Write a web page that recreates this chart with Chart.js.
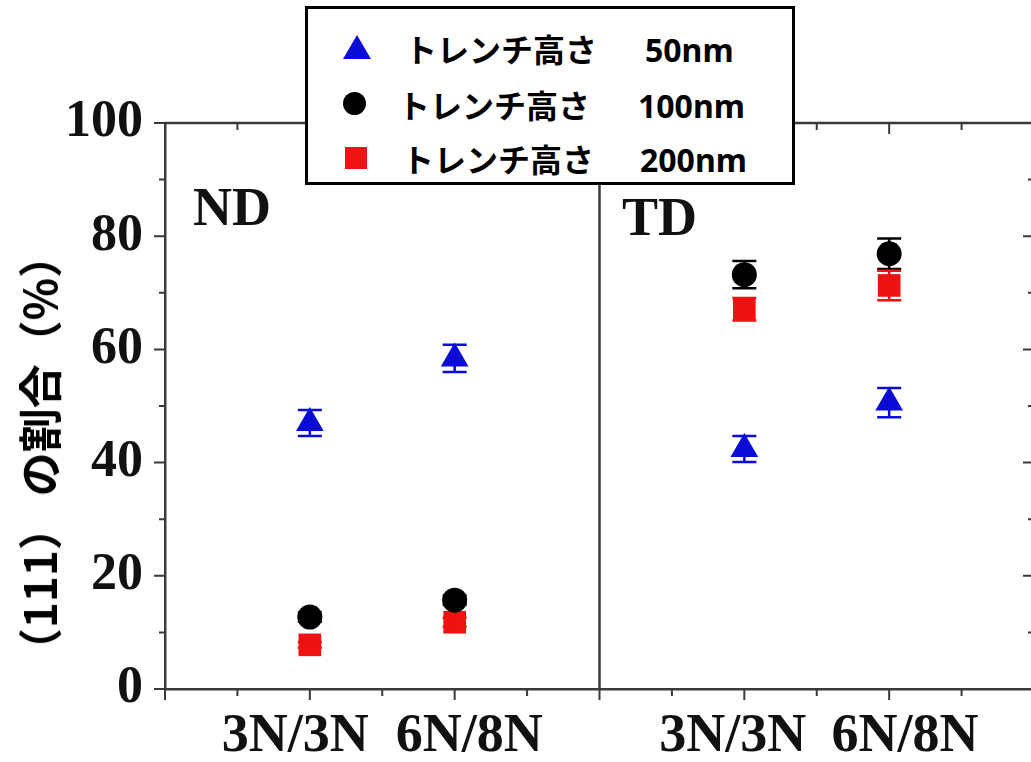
<!DOCTYPE html>
<html>
<head>
<meta charset="utf-8">
<script src="https://cdn.jsdelivr.net/npm/chart.js@4.4.1/dist/chart.umd.min.js"></script>
<style>
  html, body { margin: 0; padding: 0; background: #fff; overflow: hidden; }
  #wrap { position: relative; width: 1050px; height: 762px; }
  #chart { position: absolute; left: 0; top: 0; }
  .panel { position: absolute; font: bold 54px "Liberation Serif", serif; line-height: 54px; color: #111; }
  #ytitle {
    position: absolute; left: 38px; top: 453px;
    transform: translate(-50%, -50%) rotate(-90deg);
    font: bold 44px "Noto Sans CJK JP", sans-serif; line-height: 1;
    white-space: nowrap; color: #000;
  }
  #legend {
    position: absolute; left: 305px; top: 6px; width: 490px; height: 179px;
    box-sizing: border-box; border: 3px solid #000; background: #fff;
  }
  .lg { position: absolute; font: bold 32px "Noto Sans CJK JP", sans-serif; line-height: 40px; color: #000; white-space: nowrap; }
  .lv { position: absolute; font: bold 32px "Noto Sans", sans-serif; line-height: 40px; color: #000; white-space: nowrap; }
  .mk { position: absolute; }
</style>
</head>
<body>
<div id="wrap">
  <canvas id="chart" width="1050" height="762"></canvas>
  <div class="panel" style="left:193px; top:180px;">ND</div>
  <div class="panel" style="left:622px; top:190px;">TD</div>
  <div id="ytitle">（111） の割合（%）</div>
  <div id="legend"></div>
  <div id="legendItems"></div>
</div>
<script>
// categories on the shared x axis (ND panel: 0-6, TD panel: 6-12)
const categories = ["3N/3N", "6N/8N", "3N/3N", "6N/8N"];
const categoryX = [2, 4, 8, 10];
const labelX = [1.8, 4.2, 7.84, 10.22];
const dividerX = 6;

const seriesLabels = ["トレンチ高さ", "トレンチ高さ", "トレンチ高さ"];
const seriesHeights = ["50nm", "100nm", "200nm"];

// (111) fraction, %
const trench50 = [47.0, 58.4, 42.4, 50.6];
const trench50Err = [2.3, 2.4, 2.3, 2.6];
const trench100 = [12.7, 15.7, 73.2, 76.9];
const trench100Err = [0.8, 0.8, 2.4, 2.7];
const trench200 = [7.8, 11.8, 67.1, 71.3];
const trench200Err = [0.5, 0.8, 2.0, 2.6];

const colors = ["#0b0bd6", "#000000", "#ee1212"];
const styles = ["triangle", "circle", "rect"];
const radii = [16, 12.5, 16];

function toPoints(values) {
  return values.map((v, i) => ({ x: categoryX[i], y: v }));
}

const errorBars = {
  id: "errorBars",
  afterDatasetsDraw(chart) {
    const { ctx, scales: { x, y } } = chart;
    chart.data.datasets.forEach((ds) => {
      ctx.save();
      ctx.strokeStyle = ds.borderColor;
      ctx.lineWidth = 2.5;
      ctx.beginPath();
      ds.data.forEach((p, j) => {
        const e = ds.errors[j];
        const px = x.getPixelForValue(p.x);
        const top = y.getPixelForValue(p.y + e);
        const bot = y.getPixelForValue(p.y - e);
        ctx.moveTo(px, top); ctx.lineTo(px, bot);
        ctx.moveTo(px - 12, top); ctx.lineTo(px + 12, top);
        ctx.moveTo(px - 12, bot); ctx.lineTo(px + 12, bot);
      });
      ctx.stroke();
      ctx.restore();
    });
  }
};

const frame = {
  id: "frame",
  beforeDatasetsDraw(chart) {
    const { ctx, chartArea: a, scales: { x, y } } = chart;
    ctx.save();
    ctx.strokeStyle = "#3a3a3a";
    ctx.lineWidth = 2.5;
    ctx.beginPath();
    ctx.moveTo(a.left, a.top); ctx.lineTo(a.right, a.top); ctx.lineTo(a.right, a.bottom);
    const dx = x.getPixelForValue(dividerX);
    ctx.moveTo(dx, a.top); ctx.lineTo(dx, a.bottom);
    ctx.stroke();

    ctx.lineWidth = 2;
    ctx.beginPath();
    for (let v = x.min; v <= x.max; v++) {
      const len = v % 2 === 0 ? 11 : 7;
      const px = x.getPixelForValue(v);
      ctx.moveTo(px, a.bottom); ctx.lineTo(px, a.bottom + len);
      ctx.moveTo(px, a.top); ctx.lineTo(px, a.top + len);
    }
    for (let v = y.min; v <= y.max; v += 10) {
      const len = v % 20 === 0 ? 11 : 6;
      const py = y.getPixelForValue(v);
      ctx.moveTo(a.left, py); ctx.lineTo(a.left - len, py);
      ctx.moveTo(a.right, py); ctx.lineTo(a.right - len, py);
    }
    ctx.stroke();
    ctx.restore();
  }
};

new Chart(document.getElementById("chart"), {
  type: "scatter",
  data: {
    datasets: [trench50, trench100, trench200].map((vals, i) => ({
      label: seriesLabels[i] + " " + seriesHeights[i],
      data: toPoints(vals),
      errors: [trench50Err, trench100Err, trench200Err][i],
      pointStyle: styles[i],
      pointRadius: radii[i],
      backgroundColor: colors[i],
      borderColor: colors[i],
      borderWidth: 0,
      order: i
    }))
  },
  options: {
    responsive: false,
    animation: false,
    layout: { padding: { top: 123, right: 9, left: 0, bottom: 0 } },
    plugins: { legend: { display: false }, tooltip: { enabled: false } },
    scales: {
      x: {
        type: "linear",
        min: 0,
        max: 12,
        afterBuildTicks: (scale) => { scale.ticks = labelX.map((v) => ({ value: v })); },
        afterFit: (scale) => { scale.height = 73; },
        grid: { display: false, drawTicks: false },
        border: { display: true, color: "#3a3a3a", width: 2.5 },
        ticks: {
          autoSkip: false,
          maxRotation: 0,
          padding: 16,
          color: "#111",
          font: { family: "Liberation Serif", weight: "bold", size: 54 },
          callback: (value, index) => categories[index]
        }
      },
      y: {
        min: 0,
        max: 100,
        afterFit: (scale) => { scale.width = 165; },
        grid: { display: false, drawTicks: false },
        border: { display: true, color: "#3a3a3a", width: 2.5 },
        ticks: {
          stepSize: 20,
          padding: 22,
          color: "#111",
          font: { family: "Liberation Serif", weight: "bold", size: 52 }
        }
      }
    }
  },
  plugins: [frame, errorBars]
});

// legend rows (HTML overlay)
const legendRows = [
  { cy: 48, mx: 357, lx: 405, vx: 645 },
  { cy: 104, mx: 354, lx: 398, vx: 638 },
  { cy: 158, mx: 356, lx: 402, vx: 640 }
];
const legendItems = document.getElementById("legendItems");
legendRows.forEach((r, i) => {
  const mk = document.createElement("div");
  mk.className = "mk";
  if (styles[i] === "triangle") {
    mk.style.cssText = `left:${r.mx - 14}px; top:${r.cy - 13}px; width:28px; height:24px; background:${colors[i]}; clip-path: polygon(50% 0, 100% 100%, 0 100%);`;
  } else if (styles[i] === "circle") {
    mk.style.cssText = `left:${r.mx - 11}px; top:${r.cy - 12}px; width:23px; height:23px; border-radius:50%; background:${colors[i]};`;
  } else {
    mk.style.cssText = `left:${r.mx - 11}px; top:${r.cy - 11}px; width:22px; height:22px; background:${colors[i]};`;
  }
  legendItems.appendChild(mk);
  const lg = document.createElement("div");
  lg.className = "lg";
  lg.style.left = r.lx + "px";
  lg.style.top = (r.cy - 20) + "px";
  lg.textContent = seriesLabels[i];
  legendItems.appendChild(lg);
  const lv = document.createElement("div");
  lv.className = "lv";
  lv.style.left = r.vx + "px";
  lv.style.top = (r.cy - 18) + "px";
  lv.textContent = seriesHeights[i];
  legendItems.appendChild(lv);
});
</script>
</body>
</html>
